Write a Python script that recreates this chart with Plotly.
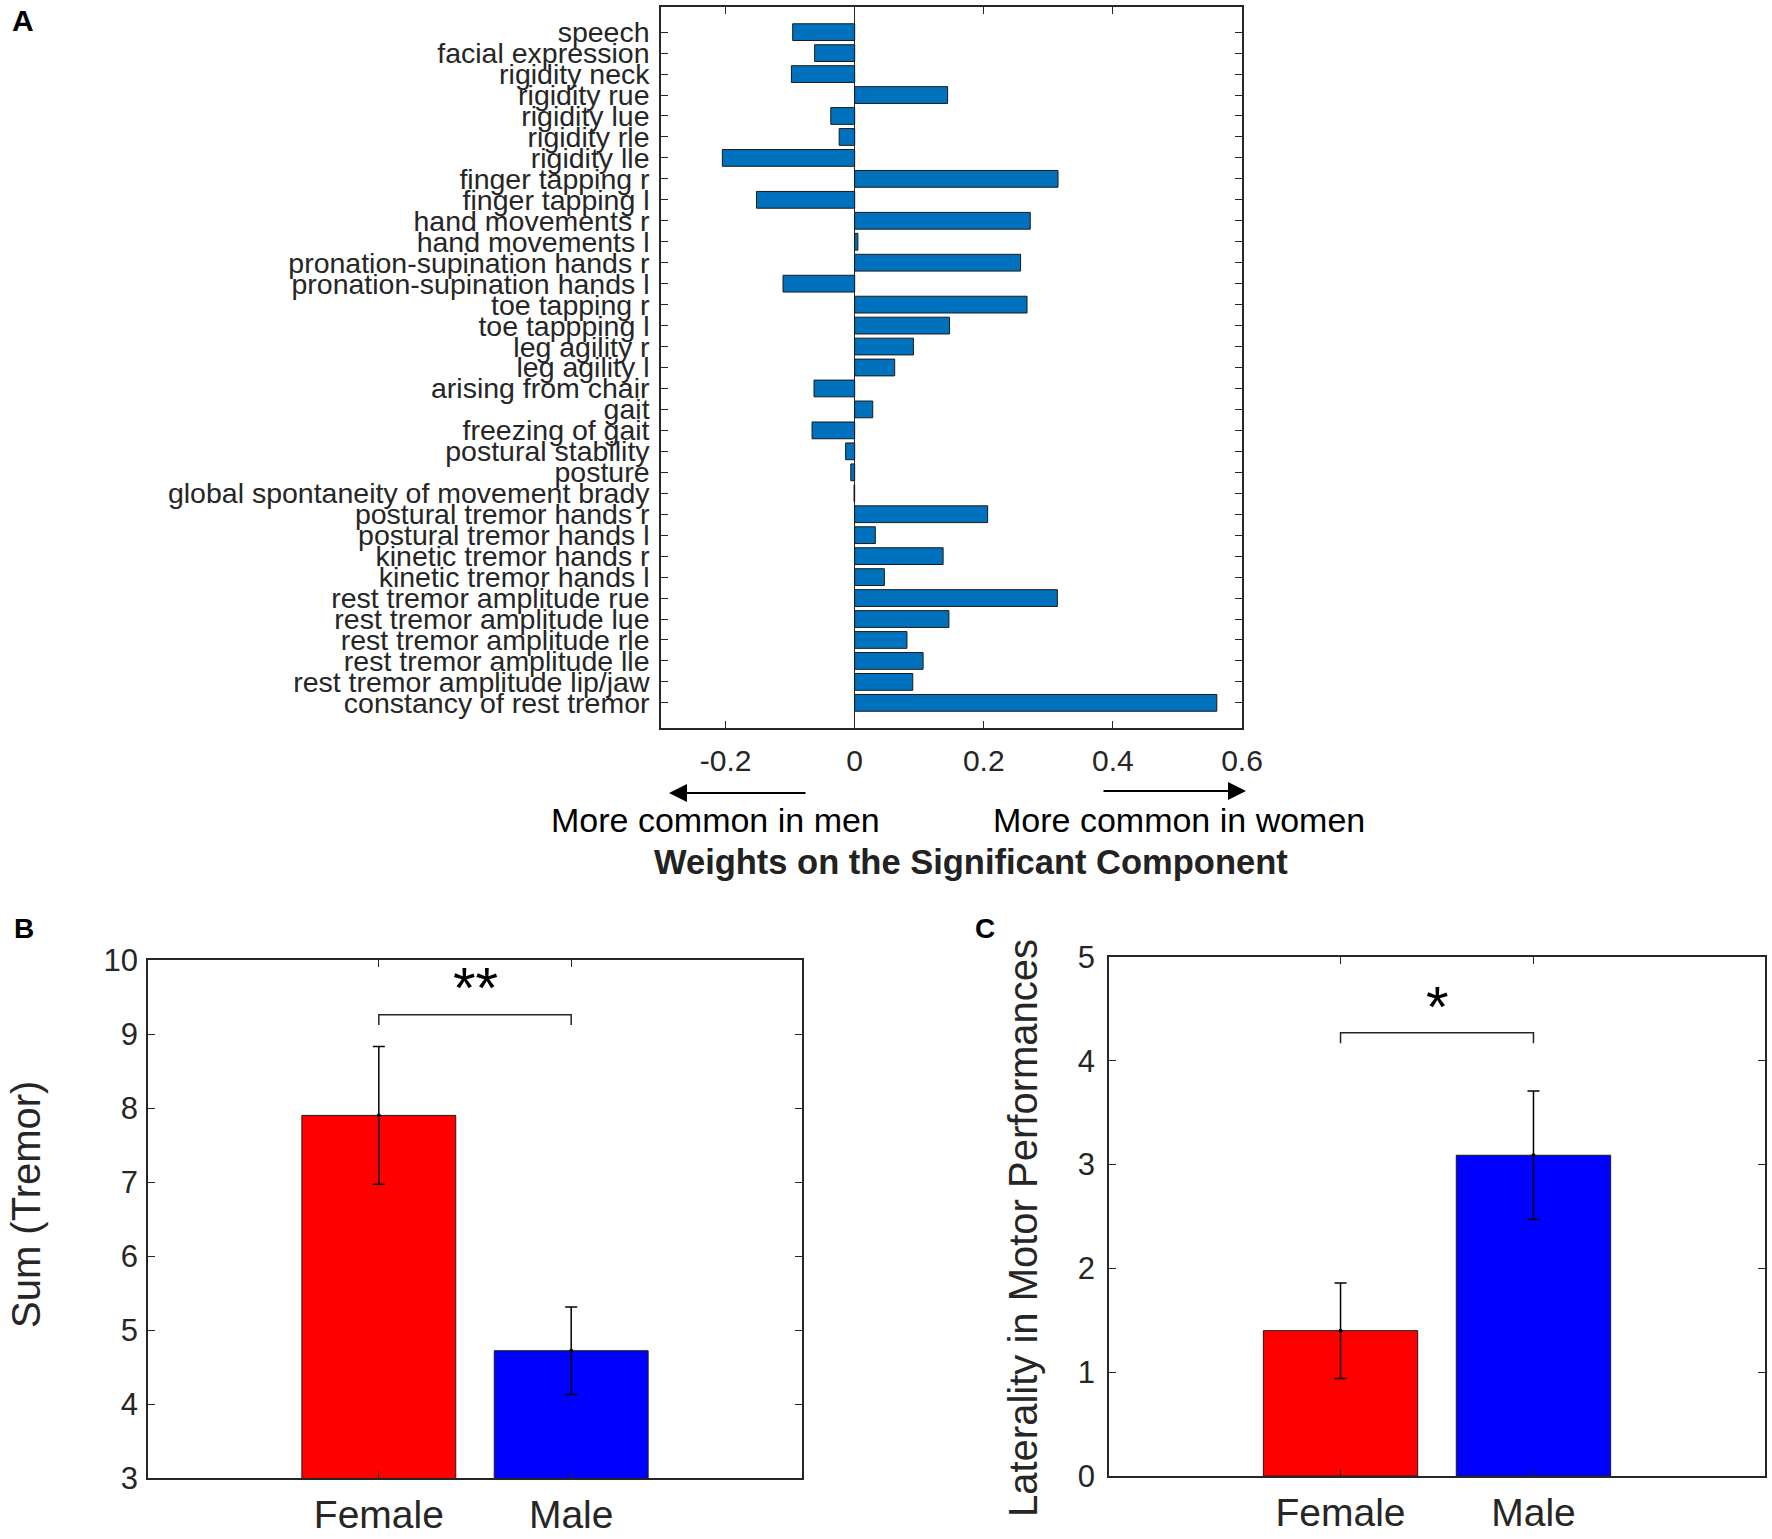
import plotly.graph_objects as go

W, H = 1772, 1539

# --- panel A: item weights on the significant component (top to bottom)
items = [
    "speech", "facial expression", "rigidity neck", "rigidity rue", "rigidity lue",
    "rigidity rle", "rigidity lle", "finger tapping r", "finger tapping l",
    "hand movements r", "hand movements l", "pronation-supination hands r",
    "pronation-supination hands l", "toe tapping r", "toe tappping l",
    "leg agility r", "leg agility l", "arising from chair", "gait",
    "freezing of gait", "postural stability", "posture",
    "global spontaneity of movement brady", "postural tremor hands r",
    "postural tremor hands l", "kinetic tremor hands r", "kinetic tremor hands l",
    "rest tremor amplitude rue", "rest tremor amplitude lue",
    "rest tremor amplitude rle", "rest tremor amplitude lle",
    "rest tremor amplitude lip/jaw", "constancy of rest tremor",
]
weights = [
    -0.096, -0.062, -0.098, 0.144, -0.037, -0.024, -0.205, 0.315, -0.152,
    0.272, 0.005, 0.257, -0.111, 0.267, 0.147, 0.091, 0.062, -0.063, 0.028,
    -0.066, -0.014, -0.006, -0.001, 0.206, 0.032, 0.137, 0.046, 0.314, 0.146,
    0.081, 0.106, 0.090, 0.561,
]
weight_ticks = [-0.2, 0, 0.2, 0.4, 0.6]

# --- panels B and C: group means with error bars
groups = ["Female", "Male"]
group_colors = ["#FF0000", "#0000FF"]
tremor_mean = [7.90, 4.72]
tremor_err = [0.93, 0.59]
tremor_bracket = [9.12, 9.26]
tremor_star_y = 9.70
laterality_mean = [1.40, 3.09]
laterality_err = [0.46, 0.62]
laterality_bracket = [4.17, 4.27]
laterality_star_y = 4.57

INK = "#262626"
FONT = "Liberation Sans, Arial, sans-serif"


def fx(p):
    return p / W


def fy(p):
    return 1 - p / H


pos = [i + 1 for i in range(len(groups))]

fig = go.Figure()

# A
fig.add_trace(go.Bar(
    x=weights, y=list(range(len(items))), orientation="h", width=0.8,
    marker=dict(color="#0072BD", line=dict(color="#1a1a1a", width=1)),
    xaxis="x", yaxis="y", showlegend=False,
))

# B and C
for (mean, err, bracket, ax) in [
    (tremor_mean, tremor_err, tremor_bracket, "2"),
    (laterality_mean, laterality_err, laterality_bracket, "3"),
]:
    fig.add_trace(go.Bar(
        x=pos, y=mean, width=0.8,
        marker=dict(color=group_colors, line=dict(color="#1a1a1a", width=1)),
        xaxis="x" + ax, yaxis="y" + ax, showlegend=False,
    ))
    fig.add_trace(go.Scatter(
        x=pos, y=mean, mode="markers",
        marker=dict(color="black", size=4),
        error_y=dict(type="data", array=err, color="black", thickness=1.5, width=6),
        xaxis="x" + ax, yaxis="y" + ax, showlegend=False,
    ))
    lo, hi = bracket
    fig.add_trace(go.Scatter(
        x=[pos[0], pos[0], pos[1], pos[1]], y=[lo, hi, hi, lo], mode="lines",
        line=dict(color=INK, width=1.5),
        xaxis="x" + ax, yaxis="y" + ax, showlegend=False,
    ))


def axis(size, **kw):
    d = dict(
        showline=True, linecolor=INK, linewidth=1.5, mirror="ticks",
        ticks="inside", ticklen=7, tickcolor=INK, tickwidth=1.2,
        showgrid=False, automargin=False,
        tickfont=dict(family=FONT, color=INK, size=size),
    )
    d.update(kw)
    return d


fig.update_layout(
    width=W, height=H,
    margin=dict(l=0, r=0, t=0, b=0),
    paper_bgcolor="white", plot_bgcolor="white",
    font=dict(family=FONT, color=INK),
    xaxis=axis(
        30, domain=[fx(661), fx(1242)], anchor="y", range=[-0.3, 0.6],
        tickvals=weight_ticks, ticktext=["-0.2", "0", "0.2", "0.4", "0.6"],
        zeroline=True, zerolinecolor=INK, zerolinewidth=1.2, ticklabelstandoff=5,
    ),
    yaxis=axis(
        28.5, domain=[fy(728), fy(7)], anchor="x",
        range=[len(items) - 1 + 1.2, -1.2],
        tickvals=list(range(len(items))), ticktext=items, zeroline=False,
        ticklabelstandoff=4,
    ),
    xaxis2=axis(
        39, domain=[fx(148), fx(802)], anchor="y2", range=[-0.2, 3.2],
        tickvals=pos, ticktext=groups, zeroline=False, ticklabelstandoff=1,
    ),
    yaxis2=axis(
        31, domain=[fy(1478), fy(960)], anchor="x2", range=[3, 10], dtick=1,
        zeroline=False, ticklabelstandoff=2,
    ),
    xaxis3=axis(
        39, domain=[fx(1109), fx(1765)], anchor="y3", range=[-0.2, 3.2],
        tickvals=pos, ticktext=groups, zeroline=False, ticklabelstandoff=1,
    ),
    yaxis3=axis(
        31, domain=[fy(1476), fy(957)], anchor="x3", range=[0, 5], dtick=1,
        zeroline=False, ticklabelstandoff=6,
    ),
)

ann = []
# panel letters
for letter, x, y, s in [("A", 10, 20, 30), ("B", 12, 928, 28), ("C", 973, 928, 28)]:
    ann.append(dict(text=f"<b>{letter}</b>", x=fx(x), y=fy(y), xref="paper", yref="paper",
                    xanchor="left", yanchor="middle", showarrow=False,
                    font=dict(size=s, color="black")))
# panel A axis texts and arrows
ann += [
    dict(text="More common in men", x=fx(715), y=fy(820), xref="paper", yref="paper",
         xanchor="center", yanchor="middle", showarrow=False,
         font=dict(size=34, color="black")),
    dict(text="More common in women", x=fx(1179), y=fy(820), xref="paper", yref="paper",
         xanchor="center", yanchor="middle", showarrow=False,
         font=dict(size=34, color="black")),
    dict(text="<b>Weights on the Significant Component</b>", x=fx(971), y=fy(862),
         xref="paper", yref="paper", xanchor="center", yanchor="middle",
         showarrow=False, font=dict(size=34.5, color="#222222")),
    dict(text="", x=fx(669), y=fy(793), xref="paper", yref="paper", showarrow=True,
         ax=138, ay=0, arrowhead=2, arrowsize=2, arrowwidth=1.8, arrowcolor="black"),
    dict(text="", x=fx(1246), y=fy(791), xref="paper", yref="paper", showarrow=True,
         ax=-144, ay=0, arrowhead=2, arrowsize=2, arrowwidth=1.8, arrowcolor="black"),
    # axis titles B and C
    dict(text="Sum (Tremor)", x=fx(26), y=fy(1205), xref="paper", yref="paper",
         xanchor="center", yanchor="middle", textangle=-90, showarrow=False,
         font=dict(size=40, color=INK)),
    dict(text="Laterality in Motor Performances", x=fx(1023), y=fy(1228), xref="paper",
         yref="paper", xanchor="center", yanchor="middle", textangle=-90,
         showarrow=False, font=dict(size=40, color=INK)),
    # significance stars
    dict(text="**", x=(pos[0] + pos[1]) / 2, y=tremor_star_y, xref="x2", yref="y2",
         xanchor="center", yanchor="middle", yshift=-5, showarrow=False,
         font=dict(size=58, color="black")),
    dict(text="*", x=(pos[0] + pos[1]) / 2, y=laterality_star_y, xref="x3", yref="y3",
         xanchor="center", yanchor="middle", yshift=-5, showarrow=False,
         font=dict(size=58, color="black")),
]
fig.update_layout(annotations=ann)

# the page's default body margin would push the fixed-size figure off the window
fig.write_html(
    "out.html",
    config={"displayModeBar": False},
    post_script="document.body.style.margin='0';document.body.style.overflow='hidden';",
)
